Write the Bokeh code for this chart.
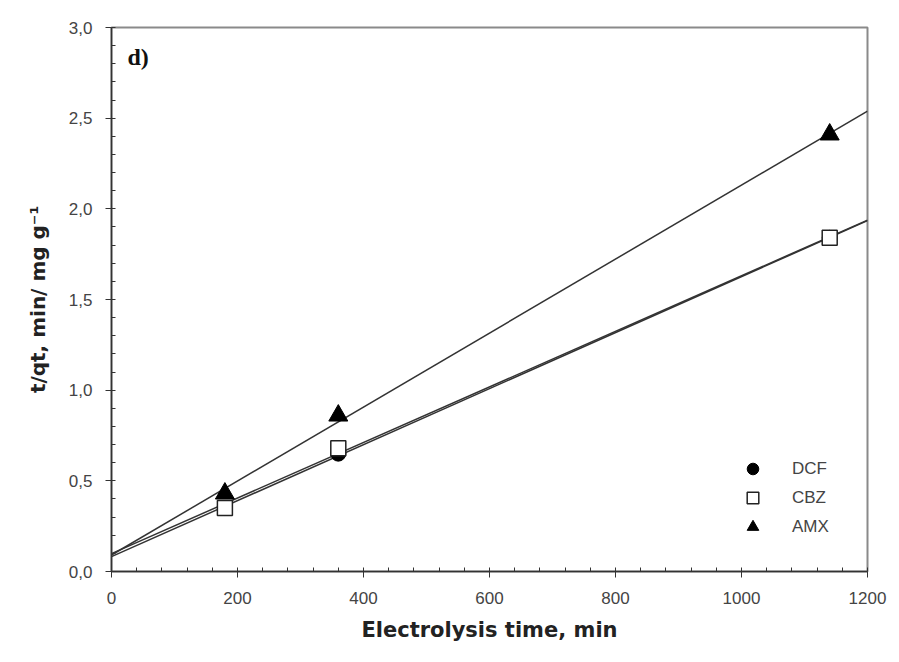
import numpy as np
from bokeh.plotting import figure
from bokeh.models import FixedTicker, Range1d, Legend, LegendItem, Label
from bokeh.embed import file_html
from bokeh.resources import INLINE

# ---- data ----
time_min = [180, 360, 1140]
dcf = [0.35, 0.65, 1.84]
cbz = [0.35, 0.68, 1.84]
amx = [0.43, 0.86, 2.41]
x_ticks = [0, 200, 400, 600, 800, 1000, 1200]
y_ticks = [0.0, 0.5, 1.0, 1.5, 2.0, 2.5, 3.0]
y_tick_labels = ["0,0", "0,5", "1,0", "1,5", "2,0", "2,5", "3,0"]
x_range_limits = [0, 1200]

p = figure(output_backend="svg", toolbar_location=None,
           frame_width=756, frame_height=544,
           min_border_left=111, min_border_top=27, min_border_right=20, min_border_bottom=80,
           x_range=Range1d(0, 1200), y_range=Range1d(0, 3.0))
p.background_fill_color = "white"
p.border_fill_color = "white"
p.outline_line_color = "#8a8a8a"
p.outline_line_width = 2
p.grid.visible = False

# fit lines (linear regression of each series)
fx = np.array(x_range_limits, dtype=float)
for ys in (dcf, cbz, amx):
    m, b = np.polyfit(time_min, ys, 1)
    p.line(fx, m * fx + b, line_color="#333333", line_width=1.5)

r_dcf = p.scatter(time_min, dcf, marker="circle", size=15, fill_color="black", line_color="black")
r_cbz = p.scatter(time_min, cbz, marker="square", size=15, fill_color="white", line_color="#222222", line_width=1.5)
r_amx = p.scatter(time_min, amx, marker="triangle", size=19, fill_color="black", line_color="black")

legend = Legend(items=[LegendItem(label="DCF", renderers=[r_dcf]),
                       LegendItem(label="CBZ", renderers=[r_cbz]),
                       LegendItem(label="AMX", renderers=[r_amx])],
                location=(623, 30))
legend.border_line_color = None
legend.background_fill_alpha = 0
legend.label_text_font = "Liberation Sans"
legend.label_text_font_size = "17px"
legend.label_text_color = "#444444"
legend.spacing = 0
legend.label_height = 29
legend.glyph_height = 29
legend.glyph_width = 37
legend.padding = 0
legend.margin = 0
legend.label_standoff = 21
p.add_layout(legend)

for ax in (p.xaxis[0], p.yaxis[0]):
    ax.axis_line_color = "#333333"
    ax.axis_line_width = 1.5
    ax.major_tick_line_color = "#333333"
    ax.minor_tick_line_color = "#333333"
    ax.major_tick_out = 6
    ax.major_tick_in = 0
    ax.minor_tick_out = 0
    ax.minor_tick_in = 4
    ax.major_label_text_font = "Liberation Sans"
    ax.major_label_text_font_size = "17px"
    ax.major_label_text_color = "#444444"
    ax.axis_label_text_font = "DejaVu Sans"
    ax.axis_label_text_font_style = "bold"
    ax.axis_label_text_color = "#222222"

p.xaxis.ticker = FixedTicker(ticks=x_ticks, minor_ticks=list(range(0, 1201, 40)))
p.yaxis.ticker = FixedTicker(ticks=y_ticks, minor_ticks=[i / 10 for i in range(0, 31)])
p.yaxis.major_label_overrides = {t: l for t, l in zip(y_ticks, y_tick_labels)}
p.xaxis.major_label_standoff = 14
p.yaxis.major_label_standoff = 13
p.xaxis.axis_label = "Electrolysis time, min"
p.yaxis.axis_label = "t/qt, min/ mg g\u207b\u00b9"
p.xaxis.axis_label_text_font_size = "21px"
p.yaxis.axis_label_text_font_size = "20px"
p.xaxis.axis_label_standoff = 11
p.yaxis.axis_label_standoff = 16

p.add_layout(Label(x=16, y=502, x_units="screen", y_units="screen", text="d)",
                   text_font="Liberation Serif", text_font_style="bold",
                   text_font_size="24px", text_color="#111111"))
p.add_layout(Label(x=-103, y=-35, x_units="screen", y_units="screen", text="0",
                   text_font="Liberation Sans",
                   text_font_size="16px", text_color="#444444",
                   text_align="center", text_baseline="middle"))

open("out.html", "w").write(file_html(p, INLINE))
